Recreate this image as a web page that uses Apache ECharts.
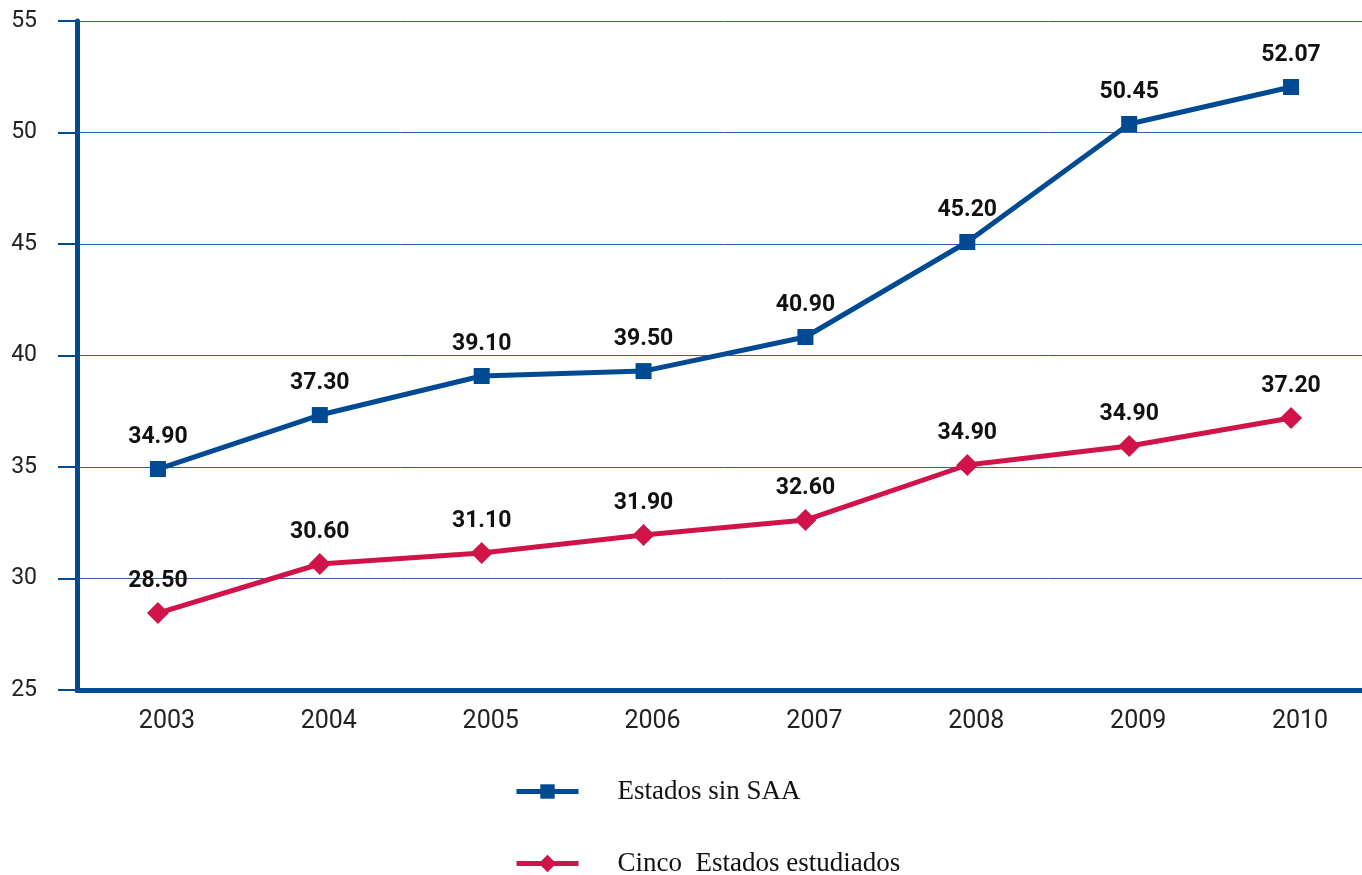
<!DOCTYPE html>
<html>
<head>
<meta charset="utf-8">
<script src="https://cdn.jsdelivr.net/npm/echarts@6/dist/echarts.min.js"></script>
<style>
html,body{margin:0;padding:0;background:#fff;overflow:hidden;}
#chart{width:1372px;height:875px;}
</style>
</head>
<body>
<div id="chart"></div>
<script>
var years = ['2003','2004','2005','2006','2007','2008','2009','2010'];
var seriesNames = ['Estados sin SAA', 'Cinco  Estados estudiados'];
var sinSAA = [34.91, 37.33, 39.08, 39.30, 40.83, 45.09, 50.38, 52.04];
var sinSAALabels = ['34.90','37.30','39.10','39.50','40.90','45.20','50.45','52.07'];
var cinco = [28.45, 30.65, 31.14, 31.95, 32.62, 35.09, 35.94, 37.20];
var cincoLabels = ['28.50','30.60','31.10','31.90','32.60','34.90','34.90','37.20'];

var BLUE = '#004a93';
var RED = '#d0144a';

function labelFormatter(arr){
  return function(p){ return arr[p.dataIndex]; };
}
var legendText = { fontFamily: 'Liberation Serif', fontSize: 27, color: '#111', padding: [0,0,0,34] };

var chart = echarts.init(document.getElementById('chart'));
chart.setOption({
  animation: false,
  backgroundColor: '#fff',
  grid: { left: 77, top: 21, height: 669, width: 1295, outerBoundsMode: 'none' },
  legend: [
    {
      orient: 'horizontal', left: 509, top: 773,
      itemWidth: 62, itemHeight: 18,
      lineStyle: { width: 5 },
      textStyle: legendText,
      data: [seriesNames[0]]
    },
    {
      orient: 'horizontal', left: 509, top: 845,
      itemWidth: 62, itemHeight: 22,
      lineStyle: { width: 5 },
      textStyle: legendText,
      data: [seriesNames[1]]
    }
  ],
  xAxis: {
    type: 'category',
    data: years,
    boundaryGap: true,
    axisLine: { lineStyle: { color: BLUE, width: 5 } },
    axisTick: { inside: true, length: 13, lineStyle: { color: BLUE, width: 2 } },
    axisLabel: { fontFamily: 'Roboto', fontSize: 25, color: '#222', margin: 19, padding: [0,0,0,18] }
  },
  yAxis: {
    type: 'value',
    min: 25, max: 55, interval: 5,
    axisLine: { show: true, lineStyle: { color: BLUE, width: 5 } },
    axisTick: { show: true, inside: false, length: 19, lineStyle: { color: BLUE, width: 2 } },
    axisLabel: { fontFamily: 'Roboto', fontSize: 23, color: '#222', margin: 40 },
    splitLine: { show: true, lineStyle: { color: '#2f62a0', width: 1 } }
  },
  series: [
    {
      name: seriesNames[0],
      type: 'line',
      data: sinSAA,
      symbol: 'rect',
      symbolSize: 16,
      itemStyle: { color: BLUE },
      lineStyle: { color: BLUE, width: 5 },
      label: {
        show: true, position: 'top', distance: 12,
        formatter: labelFormatter(sinSAALabels),
        fontFamily: 'Roboto', fontWeight: 'bold', fontSize: 23, color: '#111'
      },
      z: 3
    },
    {
      name: seriesNames[1],
      type: 'line',
      data: cinco,
      symbol: 'diamond',
      symbolSize: 22,
      itemStyle: { color: RED },
      lineStyle: { color: RED, width: 5 },
      label: {
        show: true, position: 'top', distance: 9,
        formatter: labelFormatter(cincoLabels),
        fontFamily: 'Roboto', fontWeight: 'bold', fontSize: 23, color: '#111'
      },
      z: 3
    }
  ]
});
</script>
</body>
</html>
